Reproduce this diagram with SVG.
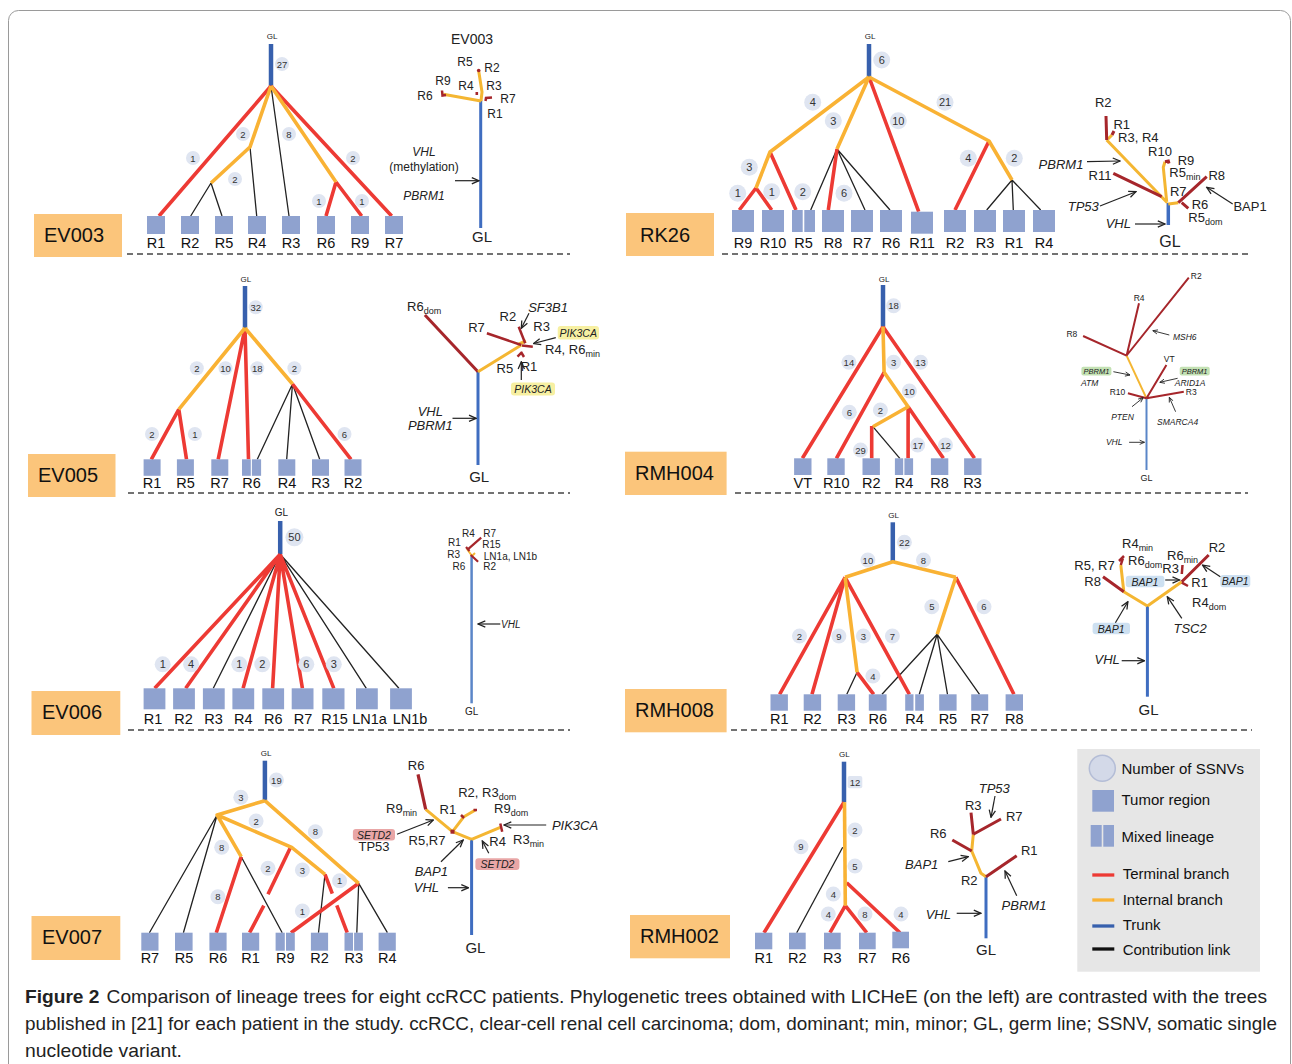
<svg xmlns="http://www.w3.org/2000/svg" width="1292" height="1064" viewBox="0 0 1292 1064">
<defs>
<style>
.t{stroke:#ed3a34;stroke-width:3.6;fill:none}
.i{stroke:#f9b234;stroke-width:3.6;fill:none;stroke-linejoin:round}
.k{stroke:#3760ad;stroke-width:4.5}
.c{stroke:#222;stroke-width:1.3;fill:none}
.sq{fill:#8fa2cf}
.nl{font-family:"Liberation Sans",Arial,sans-serif;font-size:14.5px;text-anchor:middle;fill:#111}
.bg{fill:#dfe5f1}
.bn{font-family:"Liberation Sans",Arial,sans-serif;font-size:9.5px;text-anchor:middle;dominant-baseline:central;fill:#333}
.bn2{font-family:"Liberation Sans",Arial,sans-serif;font-size:11px;text-anchor:middle;dominant-baseline:central;fill:#333}
.pb{fill:#fbc57b}
.pt{font-family:"Liberation Sans",Arial,sans-serif;font-size:20px;fill:#111}
.dl{stroke:#444;stroke-width:1.3;stroke-dasharray:6 4}
.gl{font-family:"Liberation Sans",Arial,sans-serif;font-size:8px;text-anchor:middle;fill:#222}
.rr{stroke:#a6262b;stroke-width:3;fill:none}
.ro{stroke:#f4b632;stroke-width:3;fill:none;stroke-linejoin:round}
.rb{stroke:#3f6dc0;stroke-width:3}
.rl{font-family:"Liberation Sans",Arial,sans-serif;font-size:13px;fill:#222}
.r12{font-size:12px}
.r10{font-size:10px}
.r9{font-size:8.5px}
.r15{font-size:15px}
.r11{font-size:10.5px}
.m{text-anchor:middle}
.it{font-style:italic}
.ar{stroke:#222;stroke-width:1.2;fill:none;marker-end:url(#ah)}
.as{stroke:#222;stroke-width:0.9;fill:none;marker-end:url(#ahs)}
.lg{font-family:"Liberation Sans",Arial,sans-serif;font-size:15px;fill:#111}
</style>
<marker id="ah" viewBox="0 0 10 10" refX="9" refY="5" markerWidth="9" markerHeight="9" markerUnits="userSpaceOnUse" orient="auto"><path d="M1,1.5 L9,5 L1,8.5" fill="none" stroke="#222" stroke-width="1.4"/></marker>
<marker id="ahs" viewBox="0 0 10 10" refX="9" refY="5" markerWidth="6" markerHeight="6" markerUnits="userSpaceOnUse" orient="auto"><path d="M1,1.5 L9,5 L1,8.5" fill="none" stroke="#222" stroke-width="1.4"/></marker>
</defs>
<rect width="1292" height="1064" fill="#fff"/>
<rect x="8.5" y="10.5" width="1282" height="1100" rx="10" fill="none" stroke="#9a9a9a" stroke-width="1"/>

<!-- ================= EV003 ================= -->
<g id="ev003-links">
<line class="k" x1="271" y1="44" x2="271" y2="86"/>
<path class="c" d="M211,183 L190.7,216 M211,183 L222,216 M250,147 L256.7,216 M271,86 L289,216"/>
<path class="t" d="M271,86 L159,216 M336,182 L326,216 M336,182 L361.7,216 M271,86 L391.7,216"/>
<path class="i" d="M271,86 L250,147 L211,183 M271,86 L336,182"/>
</g>
<text class="gl" x="272" y="39">GL</text>
<g id="ev003-badges">
<circle class="bg" cx="282" cy="64" r="7"/><text class="bn" x="282" y="64">27</text>
<circle class="bg" cx="193" cy="158" r="7"/><text class="bn" x="193" y="158">1</text>
<circle class="bg" cx="243" cy="134" r="7"/><text class="bn" x="243" y="134">2</text>
<circle class="bg" cx="289" cy="134" r="7"/><text class="bn" x="289" y="134">8</text>
<circle class="bg" cx="353" cy="158" r="7"/><text class="bn" x="353" y="158">2</text>
<circle class="bg" cx="235" cy="179" r="7"/><text class="bn" x="235" y="179">2</text>
<circle class="bg" cx="319" cy="201" r="7"/><text class="bn" x="319" y="201">1</text>
<circle class="bg" cx="362" cy="201" r="7"/><text class="bn" x="362" y="201">1</text>
</g>
<g id="ev003-R1"><rect class="sq" x="147" y="216" width="18" height="18"/><text class="nl" x="156" y="248">R1</text></g>
<g id="ev003-R2"><rect class="sq" x="181" y="216" width="18" height="18"/><text class="nl" x="190" y="248">R2</text></g>
<g id="ev003-R5"><rect class="sq" x="215" y="216" width="18" height="18"/><text class="nl" x="224" y="248">R5</text></g>
<g id="ev003-R4"><rect class="sq" x="248" y="216" width="18" height="18"/><text class="nl" x="257" y="248">R4</text></g>
<g id="ev003-R3"><rect class="sq" x="282" y="216" width="18" height="18"/><text class="nl" x="291" y="248">R3</text></g>
<g id="ev003-R6"><rect class="sq" x="317" y="216" width="18" height="18"/><text class="nl" x="326" y="248">R6</text></g>
<g id="ev003-R9"><rect class="sq" x="351" y="216" width="18" height="18"/><text class="nl" x="360" y="248">R9</text></g>
<g id="ev003-R7"><rect class="sq" x="385" y="216" width="18" height="18"/><text class="nl" x="394" y="248">R7</text></g>
<g id="ev003-label"><rect class="pb" x="34" y="214" width="88" height="43"/><text class="pt" x="44" y="242">EV003</text></g>
<line class="dl" x1="127" y1="254" x2="570" y2="254"/>
<g id="ev003-published">
<text class="rl m" x="472" y="44" style="font-size:14px">EV003</text>
<line class="rb" x1="480.7" y1="100" x2="480.7" y2="228"/>
<path class="ro" d="M481,101 L482,92 L478.7,71 M481,101 L443.3,94.3"/>
<circle cx="478.7" cy="70.5" r="1.8" fill="#a6262b"/>
<path class="rr" style="stroke-width:2.5" d="M442,90.5 L442.5,95.5 L446,95 M485.5,101 L486,98 L492,97.5"/>
<rect x="475.5" y="92" width="2.6" height="3" fill="#a6262b"/>
<text class="rl r12 m" x="465" y="66">R5</text>
<text class="rl r12 m" x="492" y="72">R2</text>
<text class="rl r12 m" x="443" y="85">R9</text>
<text class="rl r12 m" x="466" y="90">R4</text>
<text class="rl r12 m" x="494" y="90">R3</text>
<text class="rl r12 m" x="425" y="100">R6</text>
<text class="rl r12 m" x="508" y="103">R7</text>
<text class="rl r12 m" x="495" y="118">R1</text>
<text class="rl r12 m it" x="424" y="156">VHL</text>
<text class="rl r12 m" x="424" y="171">(methylation)</text>
<text class="rl r12 m it" x="424" y="200">PBRM1</text>
<line class="ar" x1="455" y1="180.7" x2="479" y2="180.7"/>
<text class="rl r15 m" x="482" y="242">GL</text>
</g>

<!-- ================= RK26 ================= -->
<g id="rk26-links">
<line class="k" x1="869" y1="44" x2="869" y2="77"/>
<path class="c" d="M837,149 L810.7,210 M837,149 L865,210 M837,149 L890,210 M1012,180 L986.7,210 M1012,180 L1013.3,210 M1012,180 L1040.7,210"/>
<path class="t" d="M756,188 L739.3,210 M756,188 L771.7,210 M770,152 L796,210 M837,149 L828.3,210 M869,77 L918.7,211.7 M989,141 L955,210"/>
<path class="i" d="M869,77 L770,152 L756,188 M869,77 L837,149 M869,77 L989,141 L1012,180"/>
</g>
<text class="gl" x="870" y="39">GL</text>
<g id="rk26-badges">
<circle class="bg" cx="881.7" cy="60" r="8.5"/><text class="bn2" x="881.7" y="60">6</text>
<circle class="bg" cx="812.7" cy="102.3" r="8.5"/><text class="bn2" x="812.7" y="102.3">4</text>
<circle class="bg" cx="833.3" cy="120.7" r="8.5"/><text class="bn2" x="833.3" y="120.7">3</text>
<circle class="bg" cx="898.3" cy="120.7" r="8.5"/><text class="bn2" x="898.3" y="120.7">10</text>
<circle class="bg" cx="945" cy="102.3" r="8.5"/><text class="bn2" x="945" y="102.3">21</text>
<circle class="bg" cx="749.3" cy="167.3" r="8.5"/><text class="bn2" x="749.3" y="167.3">3</text>
<circle class="bg" cx="737.7" cy="193.3" r="8.5"/><text class="bn2" x="737.7" y="193.3">1</text>
<circle class="bg" cx="771.7" cy="191.7" r="8.5"/><text class="bn2" x="771.7" y="191.7">1</text>
<circle class="bg" cx="802.7" cy="191.7" r="8.5"/><text class="bn2" x="802.7" y="191.7">2</text>
<circle class="bg" cx="844" cy="193.3" r="8.5"/><text class="bn2" x="844" y="193.3">6</text>
<circle class="bg" cx="968.3" cy="158.3" r="8.5"/><text class="bn2" x="968.3" y="158.3">4</text>
<circle class="bg" cx="1014.3" cy="158.3" r="8.5"/><text class="bn2" x="1014.3" y="158.3">2</text>
</g>
<g id="rk26-R9"><rect class="sq" x="732" y="210" width="22" height="22"/><text class="nl" x="743" y="248">R9</text></g>
<g id="rk26-R10"><rect class="sq" x="762" y="210" width="22" height="22"/><text class="nl" x="773" y="248">R10</text></g>
<g id="rk26-R5"><rect class="sq" x="792" y="210" width="10.7" height="22"/><rect class="sq" x="804.3" y="210" width="10.7" height="22"/><text class="nl" x="803.5" y="248">R5</text></g>
<g id="rk26-R8"><rect class="sq" x="822" y="210" width="22" height="22"/><text class="nl" x="833" y="248">R8</text></g>
<g id="rk26-R7"><rect class="sq" x="851" y="210" width="22" height="22"/><text class="nl" x="862" y="248">R7</text></g>
<g id="rk26-R6"><rect class="sq" x="880" y="210" width="22" height="22"/><text class="nl" x="891" y="248">R6</text></g>
<g id="rk26-R11"><rect class="sq" x="911" y="211.7" width="22" height="22"/><text class="nl" x="922" y="248">R11</text></g>
<g id="rk26-R2"><rect class="sq" x="944" y="210" width="22" height="22"/><text class="nl" x="955" y="248">R2</text></g>
<g id="rk26-R3"><rect class="sq" x="974" y="210" width="22" height="22"/><text class="nl" x="985" y="248">R3</text></g>
<g id="rk26-R1"><rect class="sq" x="1003" y="210" width="22" height="22"/><text class="nl" x="1014" y="248">R1</text></g>
<g id="rk26-R4"><rect class="sq" x="1033" y="210" width="22" height="22"/><text class="nl" x="1044" y="248">R4</text></g>
<g id="rk26-label"><rect class="pb" x="626" y="213" width="88" height="43"/><text class="pt" x="640" y="242">RK26</text></g>
<line class="dl" x1="722" y1="254" x2="1252" y2="254"/>
<g id="rk26-published">
<line class="rb" x1="1168.3" y1="203" x2="1168.3" y2="225" style="stroke-width:3.5"/>
<path class="ro" d="M1167.3,202.7 L1106.7,140 M1108,139 L1112,135 M1166.7,201.7 L1163.3,167.3 L1165,161.7 M1168.3,204 L1178.3,202.7"/>
<path class="rr" d="M1106.7,140 L1106,116 M1112,135 L1114,131 M1113.3,173.3 L1161.7,196.7 M1165,161.7 L1168.3,161 L1169,163.5 M1178.3,202.7 L1206.7,176.7 M1181.7,202.7 L1188.3,208.3"/>
<text class="rl m" x="1103.3" y="107.4">R2</text>
<text class="rl m" x="1121.7" y="129">R1</text>
<text class="rl m" x="1138.3" y="142">R3, R4</text>
<text class="rl m" x="1160" y="155.7">R10</text>
<text class="rl m" x="1186" y="164.5">R9</text>
<text class="rl" x="1169.3" y="176.5">R5<tspan style="font-size:9px" dy="3">min</tspan></text>
<text class="rl m" x="1216.7" y="179.7">R8</text>
<text class="rl m" x="1100" y="179.7">R11</text>
<text class="rl m" x="1178.3" y="196.4">R7</text>
<text class="rl m" x="1200" y="209.3">R6</text>
<text class="rl" x="1188.3" y="221.8">R5<tspan style="font-size:9px" dy="3">dom</tspan></text>
<text class="rl m" x="1250" y="211.4">BAP1</text>
<text class="rl m it" x="1083.3" y="210.7">TP53</text>
<text class="rl m it" x="1118.3" y="228">VHL</text>
<text class="rl m it" x="1061" y="168.7">PBRM1</text>
<line class="ar" x1="1087" y1="161.7" x2="1120" y2="161"/>
<line class="ar" x1="1100" y1="206" x2="1136" y2="191.7"/>
<line class="ar" x1="1135" y1="224" x2="1165" y2="224"/>
<line class="ar" x1="1232.7" y1="204" x2="1206.7" y2="187.3"/>
<text class="rl m" x="1170" y="247" style="font-size:16px">GL</text>
</g>

<!-- ================= EV005 ================= -->
<g id="ev005-links">
<line class="k" x1="245" y1="286" x2="245" y2="328"/>
<path class="c" d="M292.5,384 L257.3,459.3 M292.5,384 L286.7,459.3 M292.5,384 L319.7,459.3"/>
<path class="t" d="M178.8,409.3 L151.3,459.3 M178.8,409.3 L186.5,459.3 M245,328 L218.2,459.3 M245,328 L248.5,459.3 M292.5,384 L351,459.3"/>
<path class="i" d="M245,328 L178.8,409.3 M245,328 L292.5,384"/>
</g>
<text class="gl" x="245.8" y="282">GL</text>
<g id="ev005-badges">
<circle class="bg" cx="255.7" cy="307.3" r="7"/><text class="bn" x="255.7" y="307.3">32</text>
<circle class="bg" cx="196.8" cy="368.3" r="7"/><text class="bn" x="196.8" y="368.3">2</text>
<circle class="bg" cx="225.5" cy="368.3" r="7"/><text class="bn" x="225.5" y="368.3">10</text>
<circle class="bg" cx="257.3" cy="368.3" r="7"/><text class="bn" x="257.3" y="368.3">18</text>
<circle class="bg" cx="294.4" cy="368.3" r="7"/><text class="bn" x="294.4" y="368.3">2</text>
<circle class="bg" cx="152" cy="434" r="7"/><text class="bn" x="152" y="434">2</text>
<circle class="bg" cx="194.9" cy="434" r="7"/><text class="bn" x="194.9" y="434">1</text>
<circle class="bg" cx="344.5" cy="434" r="7"/><text class="bn" x="344.5" y="434">6</text>
</g>
<g id="ev005-R1"><rect class="sq" x="143.6" y="459.3" width="17" height="16.5"/><text class="nl" x="152" y="488">R1</text></g>
<g id="ev005-R5"><rect class="sq" x="176.9" y="459.3" width="17" height="16.5"/><text class="nl" x="185.5" y="488">R5</text></g>
<g id="ev005-R7"><rect class="sq" x="211.3" y="459.3" width="17" height="16.5"/><text class="nl" x="219.5" y="488">R7</text></g>
<g id="ev005-R6"><rect class="sq" x="242" y="459.3" width="8.8" height="16.5"/><rect class="sq" x="251.9" y="459.3" width="9.2" height="16.5"/><text class="nl" x="251.5" y="488">R6</text></g>
<g id="ev005-R4"><rect class="sq" x="278.3" y="459.3" width="17" height="16.5"/><text class="nl" x="287" y="488">R4</text></g>
<g id="ev005-R3"><rect class="sq" x="312" y="459.3" width="17" height="16.5"/><text class="nl" x="320.6" y="488">R3</text></g>
<g id="ev005-R2"><rect class="sq" x="344.5" y="459.3" width="17" height="16.5"/><text class="nl" x="353" y="488">R2</text></g>
<g id="ev005-label"><rect class="pb" x="28" y="454" width="87.5" height="43"/><text class="pt" x="38" y="482">EV005</text></g>
<line class="dl" x1="128" y1="493" x2="570" y2="493"/>
<g id="ev005-published">
<line class="rb" x1="478" y1="371.7" x2="478" y2="465"/>
<path class="rr" d="M478,371.7 L424.9,315"/>
<path class="ro" d="M478,371.7 L521.3,345 M519,344 L526,341"/>
<path class="rr" style="stroke-width:2.5" d="M486.9,333.3 L521.3,345 M518.7,326.7 L525.2,343.3 M522,345.5 L532.8,346.7 M517.5,356.7 L522,352 M521,352 L524,357"/>
<text class="rl" x="407" y="311.4">R6<tspan style="font-size:9px" dy="3">dom</tspan></text>
<text class="rl m" x="507.9" y="320.7">R2</text>
<text class="rl m it" x="548" y="312">SF3B1</text>
<text class="rl m" x="476.5" y="332">R7</text>
<text class="rl m" x="541.6" y="331.4">R3</text>
<rect x="557.7" y="326" width="41.3" height="13.5" rx="3" fill="#f7f0a2"/>
<text class="rl r11 m it" x="578.3" y="336.8">PIK3CA</text>
<text class="rl" x="545" y="354">R4, R6<tspan style="font-size:9px" dy="3">min</tspan></text>
<text class="rl m" x="504.9" y="373">R5</text>
<text class="rl m" x="529" y="371.4">R1</text>
<rect x="511" y="382.5" width="44" height="13" rx="3" fill="#f7f0a2"/>
<text class="rl r11 m it" x="533" y="392.8">PIK3CA</text>
<text class="rl m it" x="430.3" y="416">VHL</text>
<text class="rl m it" x="430.3" y="430">PBRM1</text>
<line class="ar" x1="529" y1="313.3" x2="521.3" y2="328.3"/>
<line class="ar" x1="555.8" y1="337.7" x2="533.5" y2="343.5"/>
<line class="ar" x1="521.3" y1="380" x2="521.3" y2="361.7"/>
<line class="ar" x1="452.5" y1="418.3" x2="476.2" y2="418.3"/>
<text class="rl r15 m" x="479.2" y="482">GL</text>
</g>

<!-- ================= RMH004 ================= -->
<g id="rmh004-links">
<line class="k" x1="883" y1="285" x2="883" y2="326.7"/>
<path class="c" d="M872.9,426.7 L899.8,458.3"/>
<path class="t" d="M883,326.7 L802.4,458.3 M884.1,372.3 L836.4,458.3 M871.7,426 L871.7,458.3 M908.1,406.7 L908.1,458.3 M908.1,406.7 L943.4,458.3 M883,326.7 L974.5,458.3"/>
<path class="i" d="M883,326.7 L884.1,372.3 M884.1,372.3 L908.1,406.7 L872.9,426.7"/>
</g>
<text class="gl" x="884.1" y="281.5">GL</text>
<g id="rmh004-badges">
<circle class="bg" cx="893.6" cy="305.7" r="7.5"/><text class="bn" x="893.6" y="305.7">18</text>
<circle class="bg" cx="848.9" cy="362.3" r="7.5"/><text class="bn" x="848.9" y="362.3">14</text>
<circle class="bg" cx="893.6" cy="362.3" r="7.5"/><text class="bn" x="893.6" y="362.3">3</text>
<circle class="bg" cx="920.6" cy="362.3" r="7.5"/><text class="bn" x="920.6" y="362.3">13</text>
<circle class="bg" cx="909.4" cy="391" r="7.5"/><text class="bn" x="909.4" y="391">10</text>
<circle class="bg" cx="849.3" cy="412.3" r="7.5"/><text class="bn" x="849.3" y="412.3">6</text>
<circle class="bg" cx="880.4" cy="410" r="7.5"/><text class="bn" x="880.4" y="410">2</text>
<circle class="bg" cx="860.5" cy="450" r="7.5"/><text class="bn" x="860.5" y="450">29</text>
<circle class="bg" cx="917.7" cy="445" r="7.5"/><text class="bn" x="917.7" y="445">17</text>
<circle class="bg" cx="945.5" cy="445" r="7.5"/><text class="bn" x="945.5" y="445">12</text>
</g>
<g id="rmh004-VT"><rect class="sq" x="794.1" y="458.3" width="17.4" height="16.7"/><text class="nl" x="802.8" y="488">VT</text></g>
<g id="rmh004-R10"><rect class="sq" x="827.3" y="458.3" width="17.4" height="16.7"/><text class="nl" x="836.2" y="488">R10</text></g>
<g id="rmh004-R2"><rect class="sq" x="862.5" y="458.3" width="17.4" height="16.7"/><text class="nl" x="871.2" y="488">R2</text></g>
<g id="rmh004-R4"><rect class="sq" x="894.9" y="458.3" width="8.3" height="16.7"/><rect class="sq" x="904.4" y="458.3" width="8.7" height="16.7"/><text class="nl" x="904" y="488">R4</text></g>
<g id="rmh004-R8"><rect class="sq" x="930.9" y="458.3" width="17.4" height="16.7"/><text class="nl" x="939.6" y="488">R8</text></g>
<g id="rmh004-R3"><rect class="sq" x="964.1" y="458.3" width="17.4" height="16.7"/><text class="nl" x="972.4" y="488">R3</text></g>
<g id="rmh004-label"><rect class="pb" x="625" y="451.7" width="101.6" height="43.3"/><text class="pt" x="635" y="480">RMH004</text></g>
<line class="dl" x1="735" y1="493" x2="1248" y2="493"/>
<g id="rmh004-published">
<line x1="1146.5" y1="398.3" x2="1146.5" y2="470" stroke="#5a86c8" stroke-width="2"/>
<path class="ro" style="stroke-width:2" d="M1146.5,398.3 L1126.6,355.7"/>
<path class="rr" style="stroke-width:2" d="M1126.6,355.7 L1083.1,336 M1126.6,355.7 L1139,303.3 M1127,355 L1188.8,277.7 M1146.5,398.3 L1166.4,365 M1146.5,398.3 L1183.8,391.7 M1146.5,398.3 L1127.9,393.3"/>
<text class="rl r9 m" x="1196.3" y="278.7">R2</text>
<text class="rl r9 m" x="1139.1" y="301.3">R4</text>
<text class="rl r9 m" x="1071.9" y="337.3">R8</text>
<text class="rl r9 m it" x="1184.8" y="339.7">MSH6</text>
<text class="rl r9 m" x="1169.3" y="362.3">VT</text>
<rect x="1081.4" y="366.7" width="30" height="8.8" rx="2" fill="#c3e1b3"/>
<text class="rl m it" x="1096.4" y="374" style="font-size:7.5px">PBRM1</text>
<rect x="1179.7" y="366.7" width="30" height="8.8" rx="2" fill="#c3e1b3"/>
<text class="rl m it" x="1194.6" y="374" style="font-size:7.5px">PBRM1</text>
<text class="rl r9 m it" x="1089.7" y="386.3">ATM</text>
<text class="rl r9 m it" x="1190.1" y="386.3">ARID1A</text>
<text class="rl r9 m" x="1117.5" y="394.7">R10</text>
<text class="rl r9 m" x="1191.3" y="394.7">R3</text>
<text class="rl r9 m it" x="1122.5" y="419.7">PTEN</text>
<text class="rl r9 m it" x="1177.6" y="424.7">SMARCA4</text>
<text class="rl r9 m it" x="1114.2" y="445.3">VHL</text>
<line class="as" x1="1169.3" y1="335" x2="1152.8" y2="330.7"/>
<line class="as" x1="1113.4" y1="371.7" x2="1130" y2="375"/>
<line class="as" x1="1177.6" y1="378.3" x2="1159.8" y2="382.3"/>
<line class="as" x1="1132" y1="406.7" x2="1143.2" y2="397.7"/>
<line class="as" x1="1175.6" y1="411.7" x2="1169.3" y2="397.3"/>
<line class="as" x1="1129.1" y1="442.3" x2="1144.5" y2="442.3"/>
<text class="rl m" x="1146.5" y="480.5" style="font-size:9px">GL</text>
</g>

<!-- ================= EV006 ================= -->
<g id="ev006-links">
<line class="k" x1="280.2" y1="521" x2="280.2" y2="554.3"/>
<path class="c" d="M280.2,554.3 L213.3,688.3 M280.2,554.3 L366.3,688.3 M280.2,554.3 L398.9,688.3"/>
<path class="t" d="M280.2,554.3 L154.7,688.3 M280.2,554.3 L185.7,688.3 M280.2,554.3 L243.1,688.3 M280.2,554.3 L272.6,688.3 M280.2,554.3 L302.4,688.3 M280.2,554.3 L333.8,688.3"/>
</g>
<text class="gl" x="281.4" y="515.5" style="font-size:10px">GL</text>
<g id="ev006-badges">
<circle class="bg" cx="294.4" cy="537.3" r="9"/><text class="bn2" x="294.4" y="537.3">50</text>
<circle class="bg" cx="162.7" cy="664.3" r="8"/><text class="bn2" x="162.7" y="664.3">1</text>
<circle class="bg" cx="191.1" cy="664.3" r="8"/><text class="bn2" x="191.1" y="664.3">4</text>
<circle class="bg" cx="239.3" cy="664.3" r="8"/><text class="bn2" x="239.3" y="664.3">1</text>
<circle class="bg" cx="262.3" cy="664.3" r="8"/><text class="bn2" x="262.3" y="664.3">2</text>
<circle class="bg" cx="306.3" cy="664.3" r="8"/><text class="bn2" x="306.3" y="664.3">6</text>
<circle class="bg" cx="333.8" cy="664.3" r="8"/><text class="bn2" x="333.8" y="664.3">3</text>
</g>
<g id="ev006-R1"><rect class="sq" x="143.6" y="688.3" width="21.8" height="21"/><text class="nl" x="153" y="724">R1</text></g>
<g id="ev006-R2"><rect class="sq" x="173.1" y="688.3" width="21.8" height="21"/><text class="nl" x="183.5" y="724">R2</text></g>
<g id="ev006-R3"><rect class="sq" x="202.9" y="688.3" width="21.8" height="21"/><text class="nl" x="213.5" y="724">R3</text></g>
<g id="ev006-R4"><rect class="sq" x="232.4" y="688.3" width="21.8" height="21"/><text class="nl" x="243.3" y="724">R4</text></g>
<g id="ev006-R6"><rect class="sq" x="262.3" y="688.3" width="21.8" height="21"/><text class="nl" x="273.2" y="724">R6</text></g>
<g id="ev006-R7"><rect class="sq" x="291.7" y="688.3" width="21.8" height="21"/><text class="nl" x="303" y="724">R7</text></g>
<g id="ev006-R15"><rect class="sq" x="322.3" y="688.3" width="22.2" height="21"/><text class="nl" x="334.5" y="724">R15</text></g>
<g id="ev006-LN1a"><rect class="sq" x="356" y="688.3" width="21.8" height="21"/><text class="nl" x="369.5" y="724">LN1a</text></g>
<g id="ev006-LN1b"><rect class="sq" x="390.1" y="688.3" width="21.8" height="21"/><text class="nl" x="410" y="724">LN1b</text></g>
<g id="ev006-label"><rect class="pb" x="31.5" y="691" width="88.8" height="44"/><text class="pt" x="42" y="719">EV006</text></g>
<line class="dl" x1="128" y1="730" x2="570" y2="730"/>
<g id="ev006-published">
<line x1="471.6" y1="555" x2="471.6" y2="703.3" stroke="#5b86c8" stroke-width="2.5"/>
<path class="ro" style="stroke-width:2" d="M467,549 L472,556 L475,553"/>
<path class="rr" style="stroke-width:2.2" d="M467.8,549.3 L481.2,537.7 M466,547 L469.5,551 M470.8,555 L478.1,561.7"/>
<text class="rl r10 m" x="468.5" y="536.9">R4</text>
<text class="rl r10 m" x="489.6" y="536.9">R7</text>
<text class="rl r10 m" x="454.4" y="545.9">R1</text>
<text class="rl r10 m" x="491.5" y="547.9">R15</text>
<text class="rl r10 m" x="453.6" y="557.9">R3</text>
<text class="rl r10" x="483.8" y="559.6">LN1a, LN1b</text>
<text class="rl r10 m" x="459" y="569.6">R6</text>
<text class="rl r10 m" x="489.6" y="570.3">R2</text>
<line class="ar" x1="500.3" y1="624" x2="478.1" y2="624"/>
<text class="rl r10 it" x="501" y="627.6">VHL</text>
<text class="rl r10 m" x="471.6" y="714.6">GL</text>
</g>

<!-- ================= RMH008 ================= -->
<g id="rmh008-links">
<line class="k" x1="892.8" y1="522.3" x2="892.8" y2="561.7"/>
<path class="c" d="M857.1,672.3 L846.8,694.3 M937.2,634.3 L882,694.3 M937.2,634.3 L919.3,694.3 M937.2,634.3 L947.5,694.3 M937.2,634.3 L979.5,694.3"/>
<path class="t" d="M845.1,577.3 L779.6,694.3 M845.1,577.3 L812,694.3 M845.1,577.3 L909.4,694.3 M857.1,672.3 L873.7,694.3 M955.8,577.3 L1013.9,694.3"/>
<path class="i" d="M845.1,577.3 L892.8,561.7 L955.8,577.3 M845.1,577.3 L857.1,672.3 M955.8,577.3 L937.2,634.3"/>
</g>
<text class="gl" x="893.6" y="517.5">GL</text>
<g id="rmh008-badges">
<circle class="bg" cx="904.4" cy="542.3" r="7.5"/><text class="bn" x="904.4" y="542.3">22</text>
<circle class="bg" cx="867.9" cy="560" r="7.5"/><text class="bn" x="867.9" y="560">10</text>
<circle class="bg" cx="923.5" cy="560" r="7.5"/><text class="bn" x="923.5" y="560">8</text>
<circle class="bg" cx="931.8" cy="606.7" r="7.5"/><text class="bn" x="931.8" y="606.7">5</text>
<circle class="bg" cx="984" cy="606.7" r="7.5"/><text class="bn" x="984" y="606.7">6</text>
<circle class="bg" cx="799.5" cy="636" r="7.5"/><text class="bn" x="799.5" y="636">2</text>
<circle class="bg" cx="838.9" cy="636" r="7.5"/><text class="bn" x="838.9" y="636">9</text>
<circle class="bg" cx="863.4" cy="636" r="7.5"/><text class="bn" x="863.4" y="636">3</text>
<circle class="bg" cx="892.4" cy="636" r="7.5"/><text class="bn" x="892.4" y="636">7</text>
<circle class="bg" cx="872.9" cy="676" r="7.5"/><text class="bn" x="872.9" y="676">4</text>
</g>
<g id="rmh008-R1"><rect class="sq" x="770.5" y="694.3" width="17.4" height="16.4"/><text class="nl" x="779.2" y="724">R1</text></g>
<g id="rmh008-R2"><rect class="sq" x="803.7" y="694.3" width="17.4" height="16.4"/><text class="nl" x="812.4" y="724">R2</text></g>
<g id="rmh008-R3"><rect class="sq" x="837.7" y="694.3" width="17.4" height="16.4"/><text class="nl" x="846.6" y="724">R3</text></g>
<g id="rmh008-R6"><rect class="sq" x="868.8" y="694.3" width="17.8" height="16.4"/><text class="nl" x="877.7" y="724">R6</text></g>
<g id="rmh008-R4"><rect class="sq" x="905.2" y="694.3" width="8.3" height="16.4"/><rect class="sq" x="915.2" y="694.3" width="8.7" height="16.4"/><text class="nl" x="914.5" y="724">R4</text></g>
<g id="rmh008-R5"><rect class="sq" x="939.2" y="694.3" width="17.4" height="16.4"/><text class="nl" x="947.9" y="724">R5</text></g>
<g id="rmh008-R7"><rect class="sq" x="971.2" y="694.3" width="17" height="16.4"/><text class="nl" x="979.7" y="724">R7</text></g>
<g id="rmh008-R8"><rect class="sq" x="1005.6" y="694.3" width="17.4" height="16.4"/><text class="nl" x="1014.3" y="724">R8</text></g>
<g id="rmh008-label"><rect class="pb" x="625" y="689" width="101.6" height="43.3"/><text class="pt" x="635" y="717">RMH008</text></g>
<line class="dl" x1="731" y1="730" x2="1252" y2="730"/>
<g id="rmh008-published">
<line class="rb" x1="1147.4" y1="606" x2="1147.4" y2="696.7"/>
<path class="ro" d="M1147.4,606 L1123.8,591.7 L1120.8,565 M1147.4,606 L1181.8,581.7"/>
<path class="rr" d="M1103,576.7 L1123.8,591.7 M1181.8,581.7 L1208.7,555"/>
<path class="rr" style="stroke-width:2.5" d="M1120.8,565 L1122.9,558.3 M1119,561 L1124,556 M1181.8,574 L1182.5,565 M1181.8,582.7 L1188,586"/>
<text class="rl" x="1122" y="548">R4<tspan style="font-size:9px" dy="3">min</tspan></text>
<text class="rl" x="1128" y="564.7">R6<tspan style="font-size:9px" dy="3">dom</tspan></text>
<text class="rl m" x="1094.5" y="569.7">R5, R7</text>
<text class="rl" x="1167" y="559.7">R6<tspan style="font-size:9px" dy="3">min</tspan></text>
<text class="rl m" x="1217" y="552">R2</text>
<text class="rl m" x="1170.6" y="573">R3</text>
<text class="rl m" x="1092.6" y="586.4">R8</text>
<rect x="1125.8" y="575.7" width="38.6" height="11.6" rx="3" fill="#cde0f1"/>
<text class="rl r11 m it" x="1145" y="585.5">BAP1</text>
<text class="rl m" x="1199.6" y="587">R1</text>
<rect x="1220.3" y="575" width="30" height="12.3" rx="3" fill="#cde0f1"/>
<text class="rl r11 m it" x="1235.3" y="585.2">BAP1</text>
<text class="rl" x="1192" y="606.7">R4<tspan style="font-size:9px" dy="3">dom</tspan></text>
<rect x="1092.6" y="622.7" width="37.4" height="11.6" rx="3" fill="#cde0f1"/>
<text class="rl r11 m it" x="1111.3" y="632.5">BAP1</text>
<text class="rl m it" x="1190.1" y="633">TSC2</text>
<text class="rl m it" x="1107.2" y="663.7">VHL</text>
<line class="ar" x1="1165.2" y1="580" x2="1179.7" y2="580"/>
<line class="ar" x1="1220.3" y1="576.7" x2="1202.5" y2="565"/>
<line class="ar" x1="1115.4" y1="622.7" x2="1127.9" y2="601.7"/>
<line class="ar" x1="1181.8" y1="618.3" x2="1167.3" y2="596.7"/>
<line class="ar" x1="1121.7" y1="660.7" x2="1144.5" y2="660.7"/>
<text class="rl r15 m" x="1148.6" y="715">GL</text>
</g>

<!-- ================= EV007 ================= -->
<g id="ev007-links">
<line class="k" x1="264.9" y1="760.7" x2="264.9" y2="800.7"/>
<path class="c" d="M217.1,815 L149.4,932.7 M217.1,815 L183.4,932.7 M241.2,856.7 L282.2,932.7 M325,874.3 L318.5,932.7 M358.7,883.3 L356.8,932.7 M358.7,883.3 L387.4,932.7"/>
<path class="t" d="M241.2,856.7 L216.3,932.7 M290.6,847.3 L268,894.3 M263.8,905.7 L249.6,932.7 M325,874.3 L332.3,893.6 M336.8,905.3 L347.2,932.7 M358.7,883.3 L291,932.7"/>
<path class="i" d="M264.9,800.7 L217.1,815 L241.2,856.7 M217.1,815 L291.7,847.3 L325,874.3 M264.9,800.7 L358.7,883.3"/>
</g>
<text class="gl" x="266.1" y="755.5">GL</text>
<g id="ev007-badges">
<circle class="bg" cx="276.4" cy="780" r="7.5"/><text class="bn" x="276.4" y="780">19</text>
<circle class="bg" cx="240.8" cy="797.3" r="7.5"/><text class="bn" x="240.8" y="797.3">3</text>
<circle class="bg" cx="256.1" cy="821" r="7.5"/><text class="bn" x="256.1" y="821">2</text>
<circle class="bg" cx="315.4" cy="831.7" r="7.5"/><text class="bn" x="315.4" y="831.7">8</text>
<circle class="bg" cx="221.7" cy="847.3" r="7.5"/><text class="bn" x="221.7" y="847.3">8</text>
<circle class="bg" cx="268" cy="868.3" r="7.5"/><text class="bn" x="268" y="868.3">2</text>
<circle class="bg" cx="302.4" cy="870" r="7.5"/><text class="bn" x="302.4" y="870">3</text>
<circle class="bg" cx="339.6" cy="880.7" r="7.5"/><text class="bn" x="339.6" y="880.7">1</text>
<circle class="bg" cx="217.9" cy="896.7" r="7.5"/><text class="bn" x="217.9" y="896.7">8</text>
<circle class="bg" cx="302.4" cy="911" r="7.5"/><text class="bn" x="302.4" y="911">1</text>
</g>
<g id="ev007-R7"><rect class="sq" x="141.3" y="932.7" width="17.2" height="18"/><text class="nl" x="149.9" y="963">R7</text></g>
<g id="ev007-R5"><rect class="sq" x="175" y="932.7" width="17.6" height="18"/><text class="nl" x="184" y="963">R5</text></g>
<g id="ev007-R6"><rect class="sq" x="209.4" y="932.7" width="17.2" height="18"/><text class="nl" x="218" y="963">R6</text></g>
<g id="ev007-R1"><rect class="sq" x="242" y="932.7" width="17.2" height="18"/><text class="nl" x="250.6" y="963">R1</text></g>
<g id="ev007-R9"><rect class="sq" x="275.6" y="932.7" width="9.2" height="18"/><rect class="sq" x="286" y="932.7" width="8.8" height="18"/><text class="nl" x="285.2" y="963">R9</text></g>
<g id="ev007-R2"><rect class="sq" x="310.9" y="932.7" width="17.2" height="18"/><text class="nl" x="319.5" y="963">R2</text></g>
<g id="ev007-R3"><rect class="sq" x="344.5" y="932.7" width="8.5" height="18"/><rect class="sq" x="354.1" y="932.7" width="8.8" height="18"/><text class="nl" x="353.7" y="963">R3</text></g>
<g id="ev007-R4"><rect class="sq" x="378.6" y="932.7" width="17.2" height="18"/><text class="nl" x="387.2" y="963">R4</text></g>
<g id="ev007-label"><rect class="pb" x="31.5" y="916" width="88.8" height="44"/><text class="pt" x="42" y="944">EV007</text></g>
<g id="ev007-published">
<line class="rb" x1="471.6" y1="839.3" x2="471.6" y2="935"/>
<path class="ro" d="M471.6,839.3 L452.5,831.7 L425.7,809.3 M452.5,831.7 L463.9,816.7 L475.4,810 M471.6,839.3 L500.3,827.3"/>
<path class="rr" style="stroke-width:3.2" d="M425.7,809.3 L418,774.3"/>
<rect x="450.5" y="829.7" width="4" height="4" fill="#a6262b"/>
<path class="rr" style="stroke-width:2.5" d="M461,815 L464,818 M473.5,810 L477,810 M500.3,823.5 L502.2,831.7"/>
<text class="rl m" x="416.1" y="769.7">R6</text>
<text class="rl" x="458.2" y="797">R2, R3<tspan style="font-size:9px" dy="3">dom</tspan></text>
<text class="rl" x="386" y="812.7">R9<tspan style="font-size:9px" dy="3">min</tspan></text>
<text class="rl m" x="447.9" y="813.7">R1</text>
<text class="rl" x="494" y="812.7">R9<tspan style="font-size:9px" dy="3">dom</tspan></text>
<rect x="352.9" y="829" width="42.1" height="11.5" rx="3" fill="#e9a6a6"/>
<text class="rl r11 m it" x="374" y="838.7">SETD2</text>
<text class="rl m" x="374" y="851.4">TP53</text>
<text class="rl m" x="427" y="844.7">R5,R7</text>
<text class="rl m" x="497.6" y="845.7">R4</text>
<text class="rl" x="513" y="843.7">R3<tspan style="font-size:9px" dy="3">min</tspan></text>
<text class="rl m it" x="575" y="829.7">PIK3CA</text>
<rect x="475.4" y="858.3" width="44" height="11.7" rx="3" fill="#e9a6a6"/>
<text class="rl r11 m it" x="497.4" y="868.2">SETD2</text>
<text class="rl m it" x="431.4" y="875.7">BAP1</text>
<text class="rl m it" x="426.4" y="892.4">VHL</text>
<line class="ar" x1="397" y1="834.3" x2="433.3" y2="820"/>
<line class="ar" x1="441" y1="861.7" x2="463.2" y2="840"/>
<line class="ar" x1="488.8" y1="853.3" x2="482.3" y2="841"/>
<line class="ar" x1="546.2" y1="825" x2="504.1" y2="825"/>
<line class="ar" x1="447.9" y1="887.7" x2="468.5" y2="887.7"/>
<text class="rl r15 m" x="475.4" y="953">GL</text>
</g>

<!-- ================= RMH002 ================= -->
<g id="rmh002-links">
<line class="k" x1="844" y1="761.7" x2="844" y2="802.3"/>
<path class="c" d="M842.7,847.3 L796.7,932.7"/>
<path class="t" d="M844,802.3 L764,932.7 M846.7,882.7 L900,932.7 M845.3,905.7 L830,932.7 M845.3,905.7 L866.7,932.7"/>
<path class="i" d="M844.5,802.3 L845.3,905.7"/>
</g>
<text class="gl" x="844.3" y="757">GL</text>
<g id="rmh002-badges">
<rect x="847.7" y="776" width="14.6" height="12.3" rx="2" class="bg"/><text class="bn" x="855" y="782">12</text>
<circle class="bg" cx="855" cy="830" r="7.5"/><text class="bn" x="855" y="830">2</text>
<circle class="bg" cx="801" cy="846.7" r="7.5"/><text class="bn" x="801" y="846.7">9</text>
<circle class="bg" cx="855" cy="866" r="7.5"/><text class="bn" x="855" y="866">5</text>
<circle class="bg" cx="833.3" cy="894" r="7.5"/><text class="bn" x="833.3" y="894">4</text>
<circle class="bg" cx="828.3" cy="914" r="7.5"/><text class="bn" x="828.3" y="914">4</text>
<circle class="bg" cx="865" cy="914" r="7.5"/><text class="bn" x="865" y="914">8</text>
<circle class="bg" cx="901" cy="914" r="7.5"/><text class="bn" x="901" y="914">4</text>
</g>
<g id="rmh002-R1"><rect class="sq" x="755" y="932.7" width="17.3" height="16.6"/><text class="nl" x="763.7" y="963.3">R1</text></g>
<g id="rmh002-R2"><rect class="sq" x="789" y="932.7" width="16.7" height="16.6"/><text class="nl" x="797.3" y="963.3">R2</text></g>
<g id="rmh002-R3"><rect class="sq" x="824" y="932.7" width="16.7" height="16.6"/><text class="nl" x="832.3" y="963.3">R3</text></g>
<g id="rmh002-R7"><rect class="sq" x="859" y="932.7" width="16.7" height="16.6"/><text class="nl" x="867.3" y="963.3">R7</text></g>
<g id="rmh002-R6"><rect class="sq" x="892.3" y="931.7" width="16.7" height="16.6"/><text class="nl" x="900.7" y="963.3">R6</text></g>
<g id="rmh002-label"><rect class="pb" x="630" y="915" width="100" height="43.3"/><text class="pt" x="640" y="943">RMH002</text></g>
<g id="rmh002-published">
<line class="rb" x1="986" y1="876.7" x2="986" y2="938.3"/>
<path class="ro" d="M986,876.7 L981,873.3 L971.7,851 L973.3,834.3"/>
<path class="rr" d="M986,876.7 L1016.7,855.7 M952.3,840 L971.7,851 M973.3,834.3 L971,812.7 M973.3,834.3 L1001,819"/>
<text class="rl m it" x="994.3" y="793">TP53</text>
<text class="rl m" x="973.3" y="809.7">R3</text>
<text class="rl m" x="1014.3" y="820.7">R7</text>
<text class="rl m" x="938.3" y="838">R6</text>
<text class="rl m" x="1029.3" y="854.7">R1</text>
<text class="rl m it" x="921.7" y="868.7">BAP1</text>
<text class="rl m" x="969.3" y="884.7">R2</text>
<text class="rl m it" x="1024" y="909.7">PBRM1</text>
<text class="rl m it" x="938.3" y="918.7">VHL</text>
<line class="ar" x1="995" y1="796" x2="991" y2="817.3"/>
<line class="ar" x1="948.3" y1="861.7" x2="968.3" y2="856.7"/>
<line class="ar" x1="1016.7" y1="895.7" x2="1005" y2="871"/>
<line class="ar" x1="956.7" y1="913.3" x2="981" y2="913.3"/>
<text class="rl r15 m" x="986" y="955">GL</text>
</g>

<!-- ================= Legend ================= -->
<g id="legend">
<rect x="1077.3" y="749" width="182.7" height="222.7" fill="#e6e6e6"/>
<circle cx="1102.3" cy="768.3" r="13" fill="#d3d9e8" stroke="#b4bdd6" stroke-width="1.5"/>
<text class="lg" x="1121.5" y="773.5">Number of SSNVs</text>
<rect class="sq" x="1092.3" y="790" width="21.7" height="21.7"/>
<text class="lg" x="1121.5" y="805">Tumor region</text>
<rect class="sq" x="1090.7" y="825" width="11" height="21.7"/>
<rect class="sq" x="1103.3" y="825" width="10.7" height="21.7"/>
<text class="lg" x="1121.5" y="842">Mixed lineage</text>
<line x1="1092.3" y1="875" x2="1114.3" y2="875" stroke="#ed3a34" stroke-width="3.3"/>
<text class="lg" x="1122.7" y="879">Terminal branch</text>
<line x1="1092.3" y1="900" x2="1114.3" y2="900" stroke="#f9b234" stroke-width="3.3"/>
<text class="lg" x="1122.7" y="905">Internal branch</text>
<line x1="1092.3" y1="926" x2="1114.3" y2="926" stroke="#3760ad" stroke-width="3.3"/>
<text class="lg" x="1122.7" y="929.5">Trunk</text>
<line x1="1092.3" y1="949" x2="1114.3" y2="949" stroke="#111" stroke-width="3.3"/>
<text class="lg" x="1122.7" y="955">Contribution link</text>
</g>

<!-- ================= Caption ================= -->
<g id="caption" font-family="Liberation Sans, Arial, sans-serif" font-size="19" fill="#222">
<text x="25" y="1003" textLength="1242" lengthAdjust="spacingAndGlyphs"><tspan font-weight="bold">Figure 2</tspan><tspan dx="7">Comparison of lineage trees for eight ccRCC patients. Phylogenetic trees obtained with LICHeE (on the left) are contrasted with the trees</tspan></text>
<text x="25" y="1030" textLength="1252" lengthAdjust="spacingAndGlyphs">published in [21] for each patient in the study. ccRCC, clear-cell renal cell carcinoma; dom, dominant; min, minor; GL, germ line; SSNV, somatic single</text>
<text x="25" y="1057" textLength="157" lengthAdjust="spacingAndGlyphs">nucleotide variant.</text>
</g>
</svg>
